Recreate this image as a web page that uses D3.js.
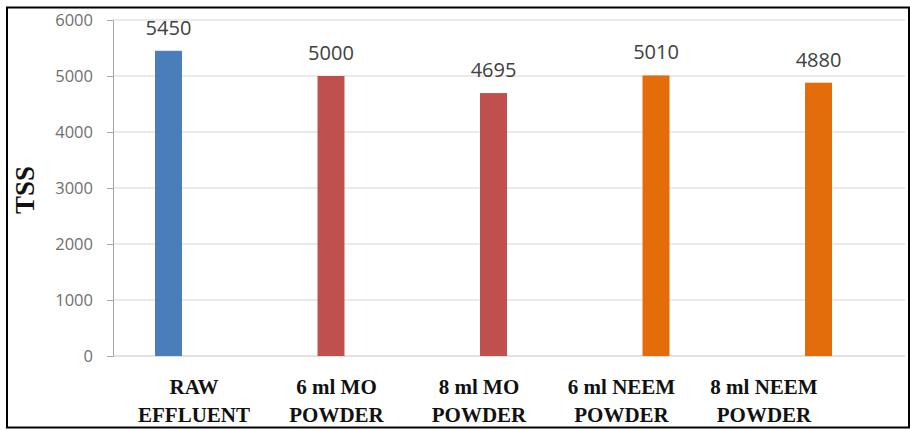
<!DOCTYPE html>
<html>
<head>
<meta charset="utf-8">
<script src="https://cdn.jsdelivr.net/npm/d3@7/dist/d3.min.js"></script>
<style>
  html, body { margin: 0; padding: 0; background: #fff; }
  svg { display: block; }
</style>
</head>
<body>
<svg id="chart" width="910" height="430"></svg>
<script>
// TSS per treatment
const categories = ["RAW EFFLUENT", "6 ml MO POWDER", "8 ml MO POWDER", "6 ml NEEM POWDER", "8 ml NEEM POWDER"];
const labelLines = [["RAW", "EFFLUENT"], ["6 ml MO", "POWDER"], ["8 ml MO", "POWDER"], ["6 ml NEEM", "POWDER"], ["8 ml NEEM", "POWDER"]];
const values = [5450, 5000, 4695, 5010, 4880];
const barColors = ["#4a7ebb", "#c0504d", "#c0504d", "#e46c0a", "#e46c0a"];
const yTicks = [0, 1000, 2000, 3000, 4000, 5000, 6000];

const svg = d3.select("#chart");

// outer frame
svg.append("rect")
  .attr("x", 7).attr("y", 7.5).attr("width", 902).attr("height", 420)
  .attr("fill", "none").attr("stroke", "#000").attr("stroke-width", 2);

const y = d3.scaleLinear().domain([0, 6000]).range([356, 20]);

const x = d3.scaleBand().domain(categories)
  .range([155, 832]).paddingInner(0.834).paddingOuter(0);

// category captions sit on their own evenly spaced positions
const xl = d3.scalePoint().domain(categories).range([194, 764]);

// gridlines
svg.append("g").selectAll("line").data(yTicks.filter(d => d > 0)).join("line")
  .attr("x1", 113).attr("x2", 905)
  .attr("y1", d => y(d)).attr("y2", d => y(d))
  .attr("stroke", "#e3e3e3").attr("stroke-width", 1.3);

// baseline
svg.append("line").attr("x1", 113).attr("x2", 905)
  .attr("y1", y(0)).attr("y2", y(0))
  .attr("stroke", "#d9d9d9").attr("stroke-width", 1.3);

// y axis
const yAxis = d3.axisLeft(y).tickValues(yTicks).tickSize(6).tickPadding(14).tickFormat(d3.format("d"));
const ga = svg.append("g").attr("transform", "translate(113,0)").call(yAxis);
ga.select(".domain").attr("stroke", "#a6a6a6");
ga.selectAll(".tick line").attr("stroke", "#a6a6a6");
ga.selectAll(".tick text")
  .attr("fill", "#6f6f6f")
  .style("font-family", "'Open Sans', sans-serif")
  .style("font-size", "16.5px");

// bars
svg.append("g").selectAll("rect").data(values).join("rect")
  .attr("x", (d, i) => x(categories[i]))
  .attr("width", x.bandwidth())
  .attr("y", d => y(d))
  .attr("height", d => y(0) - y(d))
  .attr("fill", (d, i) => barColors[i]);

// value labels
svg.append("g").selectAll("text").data(values).join("text")
  .attr("x", (d, i) => x(categories[i]) + x.bandwidth() / 2)
  .attr("y", d => y(d) - 16)
  .attr("text-anchor", "middle")
  .attr("fill", "#404040")
  .style("font-family", "'Open Sans', sans-serif")
  .style("font-size", "20px")
  .text(d => d);

// category labels
const cl = svg.append("g").selectAll("text").data(categories).join("text")
  .attr("text-anchor", "middle")
  .attr("fill", "#111")
  .style("font-family", "'Liberation Serif', 'Times New Roman', serif")
  .style("font-weight", "bold")
  .style("font-size", "21px");
cl.each(function(d, i) {
  const t = d3.select(this);
  labelLines[i].forEach((line, k) => {
    t.append("tspan").attr("x", xl(d)).attr("y", 394 + k * 28).text(line);
  });
});

// y axis title
svg.append("text")
  .attr("transform", "translate(34,190) rotate(-90)")
  .attr("text-anchor", "middle")
  .attr("fill", "#111")
  .style("font-family", "'Liberation Serif', 'Times New Roman', serif")
  .style("font-weight", "bold")
  .style("font-size", "27px")
  .text("TSS");
</script>
</body>
</html>
